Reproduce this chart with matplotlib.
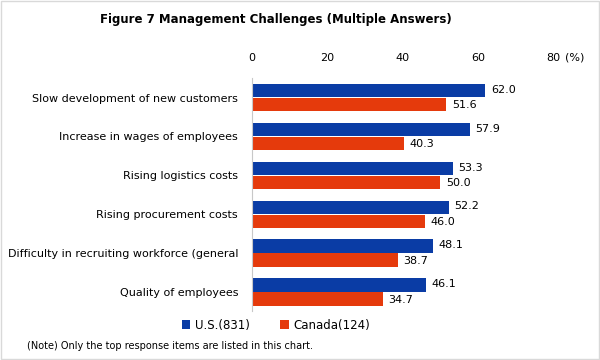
import numpy as np
import matplotlib
matplotlib.use("Agg")
import matplotlib.pyplot as plt

# Data
categories = [
    "Slow development of new customers",
    "Increase in wages of employees",
    "Rising logistics costs",
    "Rising procurement costs",
    "Difficulty in recruiting workforce (general",
    "Quality of employees",
]
us_values = [62.0, 57.9, 53.3, 52.2, 48.1, 46.1]
canada_values = [51.6, 40.3, 50.0, 46.0, 38.7, 34.7]
series_labels = ["U.S.(831)", "Canada(124)"]
x_ticks = [0, 20, 40, 60, 80]

blue = "#0a3ca5"
red = "#e53a0c"

plt.rcParams['font.family'] = ['DejaVu Sans']

fig = plt.figure(figsize=(6, 3.6), dpi=100)
ax = fig.add_axes([0.42, 0.135, 0.502, 0.648])

y = np.arange(len(categories))
h = 0.34
ax.barh(y - h / 2 - 0.01, us_values, height=h, color=blue, label=series_labels[0])
ax.barh(y + h / 2 + 0.01, canada_values, height=h, color=red, label=series_labels[1])

for yi, v in zip(y, us_values):
    ax.text(v + 1.5, yi - h / 2 - 0.03, f"{v:.1f}", va="center", ha="left", fontsize=8)
for yi, v in zip(y, canada_values):
    ax.text(v + 1.5, yi + h / 2 + 0.03, f"{v:.1f}", va="center", ha="left", fontsize=8)

ax.set_xlim(0, 80)
ax.set_ylim(len(categories) - 0.5, -0.5)
ax.set_yticks(y)
ax.set_yticklabels(categories, fontsize=8)
ax.set_xticks(x_ticks)
ax.xaxis.tick_top()
ax.tick_params(axis="x", length=0, labelsize=8, pad=11)
ax.tick_params(axis="y", length=0, pad=10)
for s in ["top", "right", "bottom"]:
    ax.spines[s].set_visible(False)
ax.spines["left"].set_color("#c8c8c8")

fig.text(0.958, 0.84, "(%)", fontsize=8, ha="center", va="center")
fig.text(0.46, 0.945, "Figure 7 Management Challenges (Multiple Answers)",
         fontsize=8.5, fontweight="bold", ha="center", va="center")

leg = fig.legend(loc="center", bbox_to_anchor=(0.46, 0.097), ncol=2, frameon=False,
                 fontsize=8.5, handlelength=0.7, handleheight=0.7, handletextpad=0.4,
                 columnspacing=2.6)
fig.text(0.045, 0.04, "(Note) Only the top response items are listed in this chart.",
         fontsize=7, ha="left", va="center")

# light border around the figure
fig.patches.append(plt.Rectangle((0.002, 0.003), 0.996, 0.994, transform=fig.transFigure,
                                 fill=False, edgecolor="#d9d9d9", linewidth=1))

fig.savefig("out.png", dpi=100)
